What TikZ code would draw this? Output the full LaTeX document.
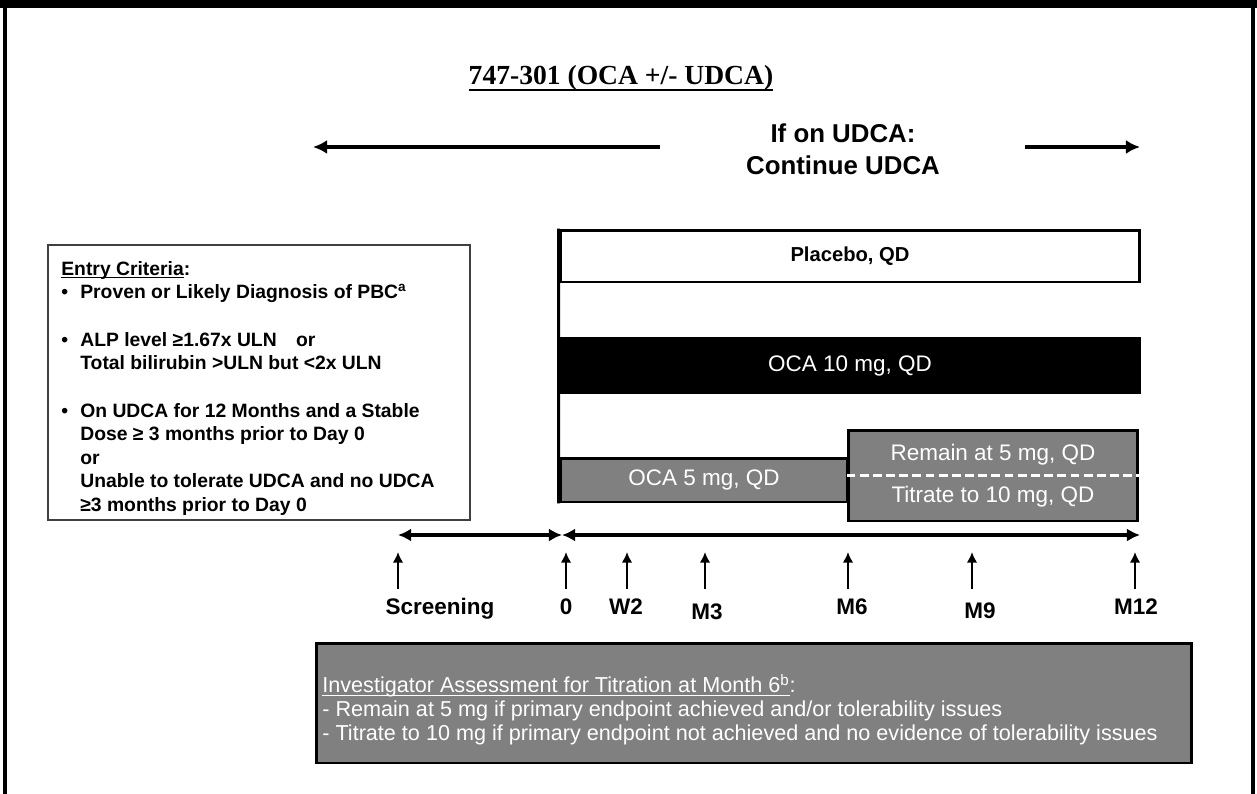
\documentclass[tikz,border=0pt]{standalone}
\usepackage{fontspec}
\setmainfont{Liberation Sans}
\newfontfamily\titlefont{Liberation Serif}
\newcommand\lineunder[3]{\setbox0\hbox{#3}\rlap{\rule[#1]{\wd0}{#2}}\box0}
\usetikzlibrary{arrows.meta}
\begin{document}
\begin{tikzpicture}[x=0.02cm,y=-0.02cm,
  armbox/.style={draw,line width=1.7pt,inner sep=0pt,font=\fontsize{12.8}{15}\selectfont},
  udcaarrow/.style={-{Latex[length=8pt,width=8pt]},line width=2.8pt},
  period/.style={{Latex[length=7.5pt,width=7.5pt]}-{Latex[length=7.5pt,width=7.5pt]},line width=2.2pt},
  uparrow/.style={-{Latex[length=6pt,width=6pt]},line width=1.6pt},
  lbl/.style={font=\bfseries\fontsize{12.8}{14}\selectfont,anchor=base}]
\useasboundingbox (0,0) rectangle (1257,794);
\draw[line width=4.5pt] (0,4) -- (1257,4);
\draw[line width=2.3pt] (5,0) -- (5,794) (1253,0) -- (1253,794);
\node[font=\titlefont\bfseries\fontsize{15.7}{18}\selectfont,anchor=base] (title) at (621,85) {\lineunder{-3.6pt}{1.5pt}{747-301 (OCA +/- UDCA)}};
\node[font=\bfseries\fontsize{14.7}{18}\selectfont,align=center] (udca) at (843,149) {If on UDCA:\\Continue UDCA};
\coordinate (la) at (660,147); \coordinate (lb) at (313,147);
\coordinate (ra) at (1025,147); \coordinate (rb) at (1140,147);
\draw[udcaarrow] (la) -- (lb);
\draw[udcaarrow] (ra) -- (rb);
\node[draw=black!75,line width=1.3pt,minimum width=8.44cm,minimum height=5.5cm] (entry) at (259,382.5) {};
\node[anchor=north west,align=left,inner sep=0pt,font=\bfseries\fontsize{11}{13.44}\selectfont] (crit) at (61,261) {\lineunder{-1.6pt}{0.7pt}{Entry Criteria}:\\
\makebox[10.8pt][l]{\textbullet}Proven or Likely Diagnosis of PBC\textsuperscript{a}\\[13.44pt]
\makebox[10.8pt][l]{\textbullet}ALP level ≥1.67x ULN\hspace{1em}or\\
\hspace*{10.8pt}Total bilirubin >ULN but <2x ULN\\[13.44pt]
\makebox[10.8pt][l]{\textbullet}On UDCA for 12 Months and a Stable\\
\hspace*{10.8pt}Dose ≥ 3 months prior to Day 0\\
\hspace*{10.8pt}or\\
\hspace*{10.8pt}Unable to tolerate UDCA and no UDCA\\
\hspace*{10.8pt}≥3 months prior to Day 0};
\node[armbox,fill=white,font=\bfseries\fontsize{11.5}{14}\selectfont,minimum width=11.6cm,minimum height=1.04cm] (placebo) at (850,256) {Placebo, QD};
\node[armbox,fill=black,text=white,minimum width=11.6cm,minimum height=1.1cm] (oca10) at (850,365.5) {OCA 10 mg, QD};
\node[armbox,fill=gray,text=white,minimum width=5.76cm,minimum height=0.88cm] (oca5) at (704,480) {OCA 5 mg, QD};
\node[armbox,fill=gray,minimum width=5.8cm,minimum height=1.82cm] (remain) at (993,475.5) {};
\draw[line width=1.7pt] (placebo.north west) -- (oca5.south west);
\draw[white,line width=1.2pt,dash pattern=on 5pt off 2.5pt] (remain.west) -- (remain.east);
\node[text=white,font=\fontsize{12.8}{15}\selectfont] (stay) at (993,455) {Remain at 5 mg, QD};
\node[text=white,font=\fontsize{12.8}{15}\selectfont] (titr) at (993,497) {Titrate to 10 mg, QD};
\coordinate (s0) at (398,535); \coordinate (s1) at (562,535); \coordinate (s2) at (1140,535);
\draw[period] (s0) -- (s1);
\draw[period] (s1) -- (s2);
\foreach \x/\lx/\t/\y [count=\i] in {398/440/Screening/614,566/566/0/614,627/626/W2/614,705/707/M3/619,848/852/M6/614,972/980/M9/618,1135/1136/M12/614}{
  \coordinate (b\i) at (\x,589); \coordinate (e\i) at (\x,552);
  \draw[uparrow] (b\i) -- (e\i);
  \node[lbl] (m\i) at (\lx,\y) {\t};
}
\node[draw,fill=gray,line width=1.7pt,minimum width=17.52cm,minimum height=2.4cm] (assess) at (754,703) {};
\node[anchor=north west,align=left,inner sep=0pt,text=white,font=\fontsize{12.3}{13.6}\selectfont] (rule) at (322,674) {\lineunder{-1.6pt}{0.6pt}{Investigator Assessment for Titration at Month 6\textsuperscript{b}}:\\
- Remain at 5 mg if primary endpoint achieved and/or tolerability issues\\
- Titrate to 10 mg if primary endpoint not achieved and no evidence of tolerability issues};
\end{tikzpicture}
\end{document}
